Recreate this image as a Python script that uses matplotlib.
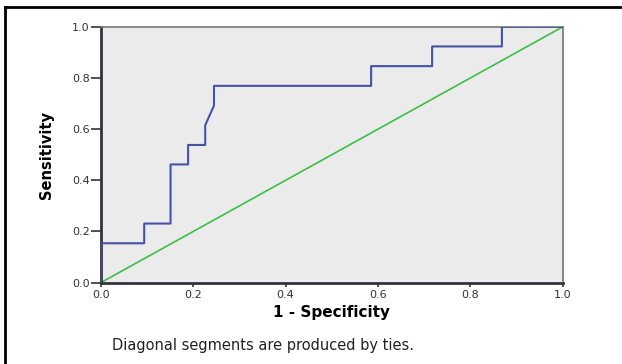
import matplotlib
matplotlib.use("Agg")
import matplotlib.pyplot as plt
from matplotlib.lines import Line2D

# ROC curve points (1 - specificity, sensitivity)
fpr = [0.0, 0.0, 0.094, 0.094, 0.151, 0.151, 0.189, 0.189, 0.226, 0.226,
       0.245, 0.245, 0.585, 0.585, 0.717, 0.717, 0.868, 0.868, 1.0]
tpr = [0.0, 0.154, 0.154, 0.231, 0.231, 0.462, 0.462, 0.538, 0.538, 0.615,
       0.692, 0.769, 0.769, 0.846, 0.846, 0.923, 0.923, 1.0, 1.0]
ref_x = [0.0, 1.0]
ref_y = [0.0, 1.0]
ticks = [0.0, 0.2, 0.4, 0.6, 0.8, 1.0]
tick_labels = ["0.0", "0.2", "0.4", "0.6", "0.8", "1.0"]

fig = plt.figure(figsize=(6.22, 3.64), dpi=100)
ax = fig.add_axes([0.162, 0.2234, 0.743, 0.7032])
ax.set_facecolor("#ebebeb")

ax.plot(ref_x, ref_y, color="#3cbf45", lw=1.2, zorder=2)
ax.plot(fpr, tpr, color="#4452a8", lw=1.5, zorder=3)

ax.set_xlim(0, 1)
ax.set_ylim(0, 1)
ax.set_xticks(ticks)
ax.set_xticklabels(tick_labels)
ax.set_yticks(ticks)
ax.set_yticklabels(tick_labels)
ax.tick_params(axis="x", length=3, width=1.2, pad=2, labelsize=8, colors="#333333")
ax.tick_params(axis="y", length=7, width=1.2, pad=1, labelsize=8, colors="#333333")

for s in ["left", "bottom"]:
    ax.spines[s].set_color("#333340")
    ax.spines[s].set_linewidth(2)
for s in ["top", "right"]:
    ax.spines[s].set_color("#777777")
    ax.spines[s].set_linewidth(1.2)

ax.set_xlabel("1 - Specificity", fontsize=11, fontweight="bold", labelpad=4)
ax.set_ylabel("Sensitivity", fontsize=10.5, fontweight="bold",
              family=["Liberation Sans Narrow", "DejaVu Sans"], labelpad=13)

fig.text(0.18, 0.052, "Diagonal segments are produced by ties.",
         fontsize=10.5, color="#222222", ha="left", va="center")

# outer frame (left and top edge)
fig.add_artist(Line2D([5 / 622, 5 / 622], [0, 1 - 7 / 364], color="black", lw=2,
                      transform=fig.transFigure))
fig.add_artist(Line2D([5 / 622, 1], [1 - 7 / 364, 1 - 7 / 364], color="black", lw=2,
                      transform=fig.transFigure))

fig.savefig("out.png", dpi=100)
